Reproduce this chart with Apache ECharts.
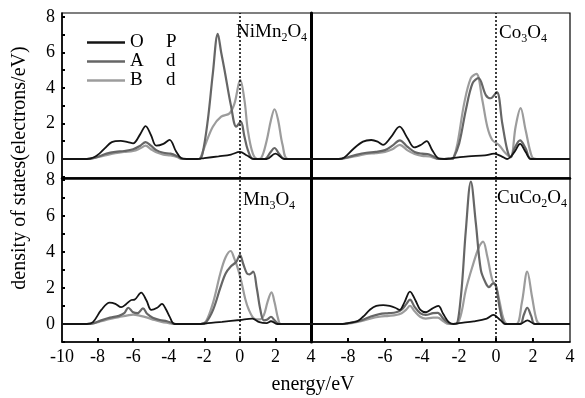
<!DOCTYPE html>
<html>
<head>
<meta charset="utf-8">
<script src="https://cdn.jsdelivr.net/npm/echarts@6/dist/echarts.min.js"></script>
<style>
  html, body { margin: 0; padding: 0; background: #fff; }
  #chart { width: 585px; height: 398px; }
</style>
</head>
<body>
<div id="chart"></div>
<script>
// energy ticks / labels
const xLabelsLeft = [-10, -8, -6, -4, -2, 0, 2, 4];
const xLabelsRight = [-8, -6, -4, -2, 0, 2, 4];
const xTicks = [-8, -6, -4, -2, 0, 2];
const yLabels = [0, 2, 4, 6, 8];
const yTicks = [-1, 0, 1, 2, 3, 4, 5, 6, 7, 8];
const seriesNames = ['O P', 'A d', 'B d'];

// NiMn2O4 (top left)
const niOp = [[-10,0],[-8.6,0],[-8.2,0.1],[-7.9,0.3],[-7.6,0.6],[-7.2,0.95],[-6.7,1.02],[-6.3,0.95],[-6.0,0.88],[-5.6,1.4],[-5.3,1.85],[-5.0,1.35],[-4.7,0.75],[-4.3,0.85],[-3.95,1.08],[-3.6,0.45],[-3.3,0.05],[-3.0,0],[-2.4,0],[-2.0,0.05],[-1.2,0.15],[-0.5,0.25],[0.0,0.4],[0.4,0.2],[0.8,0],[1.5,0],[2.0,0.3],[2.5,0],[4,0]];
const niAd = [[-10,0],[-8.6,0],[-8.0,0.12],[-7.5,0.3],[-7.0,0.4],[-6.5,0.45],[-6.0,0.55],[-5.6,0.75],[-5.3,0.95],[-5.0,0.75],[-4.7,0.5],[-4.3,0.35],[-3.9,0.3],[-3.5,0.15],[-3.2,0],[-2.3,0],[-2.1,0.3],[-1.8,2.2],[-1.52,4.8],[-1.24,7.05],[-1.05,6.0],[-0.86,5.0],[-0.49,2.95],[-0.2,1.82],[0.05,2.1],[0.25,1.3],[0.45,0.5],[0.75,0],[1.4,0],[1.7,0.35],[1.95,0.62],[2.2,0.3],[2.5,0],[4,0]];
const niBd = [[-10,0],[-8.6,0],[-8.0,0.1],[-7.5,0.22],[-7.0,0.33],[-6.5,0.4],[-6.0,0.45],[-5.6,0.6],[-5.3,0.75],[-5.0,0.55],[-4.7,0.38],[-4.3,0.25],[-3.9,0.2],[-3.5,0.1],[-3.3,0],[-2.3,0],[-2.2,0.1],[-1.98,0.7],[-1.52,1.82],[-1.05,2.38],[-0.58,2.57],[-0.3,3.13],[0.02,4.45],[0.26,3.3],[0.45,1.6],[0.73,0.3],[1.0,0],[1.2,0.05],[1.5,1.0],[1.75,2.2],[1.95,2.8],[2.15,2.2],[2.4,0.8],[2.7,0],[4,0]];

// Co3O4 (top right)
const coOp = [[-10,0],[-8.5,0],[-8.2,0.08],[-7.73,0.55],[-7.19,0.98],[-6.74,1.07],[-6.4,0.98],[-6.11,0.8],[-5.7,1.2],[-5.21,1.82],[-4.8,1.2],[-4.41,0.65],[-4.05,0.8],[-3.75,1.01],[-3.45,0.5],[-3.1,0.03],[-2.8,0],[-2.4,0.05],[-1.5,0.15],[-0.6,0.2],[-0.1,0.3],[0.3,0.15],[0.6,0],[1.0,0.4],[1.3,0.85],[1.6,0.4],[1.9,0],[4,0]];
const coAd = [[-10,0],[-8.5,0],[-8.0,0.1],[-7.5,0.25],[-7.0,0.35],[-6.5,0.4],[-6.0,0.5],[-5.6,0.75],[-5.2,1.05],[-4.8,0.7],[-4.4,0.4],[-4.0,0.3],[-3.7,0.28],[-3.4,0.15],[-3.1,0],[-2.4,0],[-2.3,0.05],[-1.99,0.88],[-1.63,2.76],[-1.27,4.26],[-0.95,4.55],[-0.55,3.6],[-0.29,3.42],[0.04,3.76],[0.34,2.0],[0.61,0.5],[0.8,0.1],[1.0,0.6],[1.3,1.05],[1.6,0.6],[1.9,0],[4,0]];
const coBd = [[-10,0],[-8.5,0],[-8.0,0.08],[-7.5,0.18],[-7.0,0.28],[-6.5,0.33],[-6.0,0.4],[-5.6,0.55],[-5.2,0.8],[-4.8,0.5],[-4.4,0.28],[-4.0,0.18],[-3.6,0.15],[-3.3,0.05],[-3.1,0],[-2.4,0],[-2.3,0.05],[-2.08,0.88],[-1.72,3.13],[-1.36,4.55],[-1.06,4.79],[-0.74,3.32],[-0.47,1.82],[-0.2,1.07],[0.16,0.79],[0.52,0.32],[0.79,0.1],[1.06,1.82],[1.33,2.86],[1.6,1.63],[1.95,0.1],[2.2,0],[4,0]];

// Mn3O4 (bottom left)
const mnOp = [[-10,0],[-8.6,0],[-8.26,0.1],[-7.79,0.78],[-7.32,1.19],[-7.0,1.12],[-6.67,0.93],[-6.4,1.1],[-6.1,1.33],[-5.92,1.35],[-5.55,1.74],[-5.25,1.3],[-4.98,0.78],[-4.65,0.9],[-4.38,1.11],[-4.15,0.8],[-3.95,0.41],[-3.67,0],[-2.2,0],[-1.8,0.05],[-1.0,0.12],[0.0,0.22],[0.7,0.3],[1.1,0.1],[1.5,0.05],[1.75,0.15],[2.1,0],[4,0]];
const mnAd = [[-10,0],[-8.6,0],[-8.2,0.05],[-7.8,0.2],[-7.3,0.35],[-6.8,0.45],[-6.5,0.6],[-6.27,0.9],[-6.0,0.65],[-5.75,0.6],[-5.45,0.87],[-5.2,0.55],[-4.9,0.35],[-4.5,0.22],[-4.1,0.15],[-3.8,0.05],[-3.6,0],[-2.2,0],[-1.9,0.1],[-1.5,0.8],[-1.1,2.0],[-0.8,2.8],[-0.5,3.2],[-0.2,3.45],[0.0,3.83],[0.2,3.3],[0.4,2.8],[0.55,2.75],[0.75,2.9],[0.95,2.0],[1.15,0.8],[1.35,0.2],[1.55,0.25],[1.75,0.4],[1.95,0.2],[2.2,0],[4,0]];
const mnBd = [[-10,0],[-8.6,0],[-8.2,0.05],[-7.8,0.15],[-7.3,0.28],[-6.8,0.38],[-6.3,0.48],[-6.0,0.52],[-5.6,0.45],[-5.2,0.35],[-4.8,0.22],[-4.4,0.12],[-4.0,0.05],[-3.7,0],[-2.2,0],[-1.9,0.15],[-1.5,1.2],[-1.1,2.8],[-0.8,3.7],[-0.52,4.05],[-0.3,3.6],[-0.15,3.2],[0.05,2.5],[0.3,1.4],[0.5,0.8],[0.8,0.3],[1.1,0.25],[1.35,0.5],[1.55,1.2],[1.78,1.75],[1.95,1.2],[2.15,0.3],[2.3,0],[4,0]];

// CuCo2O4 (bottom right)
const cuOp = [[-10,0],[-8.3,0],[-8.0,0.05],[-7.5,0.15],[-7.19,0.4],[-6.8,0.8],[-6.47,1.0],[-6.1,1.05],[-5.75,1.0],[-5.45,0.9],[-5.21,0.78],[-4.95,1.2],[-4.65,1.8],[-4.35,1.3],[-4.1,0.8],[-3.78,0.65],[-3.45,0.85],[-3.12,1.0],[-2.85,0.55],[-2.55,0.1],[-2.3,0],[-2.0,0.05],[-1.2,0.15],[-0.5,0.3],[-0.15,0.5],[0.25,0.2],[0.5,0],[1.3,0],[1.7,0.2],[2.1,0],[4,0]];
const cuAd = [[-10,0],[-8.3,0],[-7.8,0.08],[-7.3,0.2],[-6.8,0.4],[-6.3,0.55],[-5.8,0.6],[-5.4,0.65],[-5.1,0.8],[-4.85,1.1],[-4.65,1.35],[-4.4,0.95],[-4.1,0.6],[-3.8,0.5],[-3.4,0.6],[-3.15,0.62],[-2.85,0.3],[-2.55,0.05],[-2.35,0],[-2.17,0],[-1.9,1.5],[-1.63,5.2],[-1.36,7.9],[-1.09,5.6],[-0.82,3.0],[-0.55,2.26],[-0.38,2.05],[-0.15,2.25],[0.0,2.1],[0.18,1.0],[0.35,0.2],[0.5,0],[1.3,0],[1.5,0.5],[1.69,0.9],[1.9,0.45],[2.1,0],[4,0]];
const cuBd = [[-10,0],[-8.3,0],[-7.8,0.05],[-7.3,0.15],[-6.8,0.3],[-6.3,0.4],[-5.8,0.45],[-5.4,0.5],[-5.1,0.6],[-4.85,0.8],[-4.65,1.0],[-4.4,0.7],[-4.1,0.4],[-3.8,0.3],[-3.4,0.35],[-3.15,0.35],[-2.85,0.15],[-2.55,0],[-2.15,0],[-1.9,0.5],[-1.63,1.9],[-1.27,3.2],[-0.91,4.3],[-0.7,4.57],[-0.47,3.74],[-0.2,2.44],[0.0,2.1],[0.2,1.2],[0.4,0.3],[0.6,0],[1.1,0],[1.4,1.2],[1.69,2.9],[1.95,1.5],[2.2,0.2],[2.4,0],[4,0]];

const font = 'Liberation Serif, Times New Roman, serif';
const colors = { 'O P': '#141414', 'A d': '#666666', 'B d': '#9c9c9c' };
const widths = { 'O P': 1.8, 'A d': 2.2, 'B d': 2.2 };

const panels = [
  [niOp, niAd, niBd],
  [coOp, coAd, coBd],
  [mnOp, mnAd, mnBd],
  [cuOp, cuAd, cuBd]
];

const grids = [
  { left: 62, top: 13, width: 249, height: 165 },
  { left: 311, top: 13, width: 259, height: 165 },
  { left: 62, top: 178, width: 249, height: 164 },
  { left: 311, top: 178, width: 259, height: 164 }
].map(g => Object.assign(g, { show: true, borderColor: '#000', borderWidth: 1.2 }));

let xAxes = [];
let yAxes = [];
for (let i = 0; i < 4; i++) {
  let bottom = i >= 2;
  let right = i % 2 === 1;
  xAxes.push({
    gridIndex: i, type: 'value', min: -10, max: 4,
    splitLine: { show: false },
    axisLine: { onZero: false, lineStyle: { color: '#000', width: bottom ? 1.5 : 2.5 } },
    axisTick: { show: bottom, inside: true, length: 4, lineStyle: { color: '#000', width: 2 }, customValues: xTicks },
    axisLabel: {
      show: bottom, customValues: right ? xLabelsRight : xLabelsLeft,
      color: '#000', fontSize: 18, fontFamily: font, margin: 6
    }
  });
  yAxes.push({
    gridIndex: i, type: 'value',
    min: bottom ? -1.0 : -1.07, max: bottom ? 8.1 : 8.22,
    splitLine: { show: false },
    axisLine: { onZero: false, lineStyle: { color: '#000', width: right ? 3 : 1.5 } },
    axisTick: { show: !right, inside: true, length: 3, lineStyle: { color: '#000', width: 2 }, customValues: yTicks },
    axisLabel: { show: !right, customValues: yLabels, color: '#000', fontSize: 18, fontFamily: font, margin: 7 }
  });
}

let series = [];
panels.forEach((p, i) => {
  p.forEach((data, k) => {
    let name = seriesNames[k];
    let s = {
      name: name, type: 'line', xAxisIndex: i, yAxisIndex: i,
      data: data, symbol: 'none', smooth: 0.35,
      lineStyle: { color: colors[name], width: widths[name] },
      itemStyle: { color: colors[name] },
      z: 3 - k
    };
    if (k === 0) {
      s.markLine = {
        silent: true, symbol: ['none', 'none'], label: { show: false },
        lineStyle: { color: '#000', type: [2, 2], width: 1.5 },
        data: [{ xAxis: 0 }]
      };
    }
    series.push(s);
  });
});

function formula(parts, x, y) {
  return {
    type: 'text', left: x, top: y, z: 10,
    style: {
      text: parts, fill: '#000',
      rich: {
        m: { fontSize: 19, fontFamily: font, lineHeight: 22, fill: '#000' },
        s: { fontSize: 12, fontFamily: font, lineHeight: 12, verticalAlign: 'bottom', fill: '#000' }
      }
    }
  };
}

let chart = echarts.init(document.getElementById('chart'));
chart.setOption({
  animation: false,
  backgroundColor: '#fff',
  grid: grids,
  xAxis: xAxes,
  yAxis: yAxes,
  legend: {
    data: seriesNames, orient: 'vertical', left: 82, top: 28,
    icon: 'rect', itemWidth: 38, itemHeight: 2.5, itemGap: 0,
    formatter: function (name) {
      return '{a|' + name.split(' ')[0] + '}{b|' + name.split(' ')[1] + '}';
    },
    textStyle: {
      color: '#000', fontSize: 19, lineHeight: 19, fontFamily: font,
      rich: {
        a: { fontSize: 19, fontFamily: font, width: 36, color: '#000' },
        b: { fontSize: 19, fontFamily: font, color: '#000' }
      }
    }
  },
  graphic: [
    formula('{m|NiMn}{s|2}{m|O}{s|4}', 236, 23),
    formula('{m|Co}{s|3}{m|O}{s|4}', 499, 24),
    formula('{m|Mn}{s|3}{m|O}{s|4}', 243, 191),
    formula('{m|CuCo}{s|2}{m|O}{s|4}', 497, 189),
    {
      type: 'text', x: 20, y: 168, rotation: Math.PI / 2, z: 10,
      style: { text: 'density of states(electrons/eV)', fontSize: 20, fontFamily: font, fill: '#000', align: 'center', verticalAlign: 'middle' }
    },
    {
      type: 'text', x: 313, y: 385, z: 10,
      style: { text: 'energy/eV', fontSize: 20, fontFamily: font, fill: '#000', align: 'center', verticalAlign: 'middle' }
    }
  ],
  series: series
});
</script>
</body>
</html>
